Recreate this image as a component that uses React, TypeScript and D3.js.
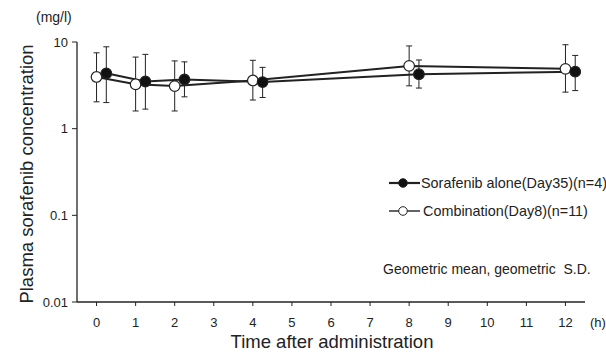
import React from 'react';
import * as d3 from 'd3';

const times = [0, 1, 2, 4, 8, 12];
const xTicks = [0, 1, 2, 3, 4, 5, 6, 7, 8, 9, 10, 11, 12];
const yTicks = [10, 1, 0.1, 0.01];
const yTickLabels = ['10', '1', '0.1', '0.01'];

// Sorafenib alone (Day35)(n=4), filled
const aloneMean = [4.35, 3.5, 3.7, 3.45, 4.25, 4.55];
const aloneUpper = [8.8, 7.2, 5.9, 5.1, 6.2, 7.0];
const aloneLower = [2.0, 1.68, 2.33, 2.29, 2.94, 2.75];

// Combination (Day8)(n=11), open
const comboMean = [3.95, 3.25, 3.1, 3.6, 5.3, 4.9];
const comboUpper = [7.5, 6.7, 6.05, 6.15, 9.0, 9.3];
const comboLower = [2.04, 1.6, 1.6, 2.14, 3.12, 2.64];

const font = '"Liberation Sans", Arial, sans-serif';

const App = () => {
  const width = 606;
  const height = 352;

  const xScale = d3.scaleLinear().domain([-0.5, 12.5]).range([77, 585]);
  const yScale = d3.scaleLog().domain([0.01, 10]).range([302, 42]);

  const series = [
    { mean: comboMean, up: comboUpper, lo: comboLower, offset: 0, fill: '#fff' },
    { mean: aloneMean, up: aloneUpper, lo: aloneLower, offset: 0.25, fill: '#111' },
  ];

  const line = d3.line<[number, number]>()
    .x(d => xScale(d[0]))
    .y(d => yScale(d[1]));

  return (
    <svg width={width} height={height} style={{ position: 'absolute', left: 0, top: 0 }}>
      <rect width={width} height={height} fill="#fff" />
      {/* axes */}
      <line x1={xScale.range()[0]} x2={xScale.range()[0]} y1={yScale(10)} y2={yScale(0.01)} stroke="#222" strokeWidth={1.3} />
      <line x1={xScale.range()[0]} x2={xScale.range()[1]} y1={yScale(0.01)} y2={yScale(0.01)} stroke="#222" strokeWidth={1.3} />
      {yTicks.map((t, i) => (
        <g key={t}>
          <line x1={72} x2={77} y1={yScale(t)} y2={yScale(t)} stroke="#222" />
          <text x={68} y={yScale(t) + 4.5} textAnchor="end" fontFamily={font} fontSize={13} fill="#222">{yTickLabels[i]}</text>
        </g>
      ))}
      {xTicks.map(t => (
        <g key={t}>
          <line x1={xScale(t)} x2={xScale(t)} y1={302} y2={306} stroke="#222" />
          <text x={xScale(t)} y={327} textAnchor="middle" fontFamily={font} fontSize={13} fill="#222">{t}</text>
        </g>
      ))}
      <text x={590} y={327} fontFamily={font} fontSize={13} fill="#222">(h)</text>
      <text x={36} y={22} fontFamily={font} fontSize={14} fill="#222">(mg/l)</text>
      <text x={332} y={348} textAnchor="middle" fontFamily={font} fontSize={18.5} fill="#222">Time after administration</text>
      <text transform="translate(33,174) rotate(-90)" textAnchor="middle" fontFamily={font} fontSize={18.5} fill="#222">Plasma sorafenib concentration</text>

      {/* lines */}
      {series.map((s, k) => (
        <path key={'l' + k}
          d={line(times.map((t, i) => [t + s.offset, s.mean[i]] as [number, number])) || ''}
          fill="none" stroke="#222" strokeWidth={2} />
      ))}
      {/* error bars */}
      {series.map((s, k) => times.map((t, i) => {
        const x = xScale(t + s.offset);
        return (
          <g key={'e' + k + i} stroke="#222" strokeWidth={1}>
            <line x1={x} x2={x} y1={yScale(s.up[i])} y2={yScale(s.lo[i])} />
            <line x1={x - 3} x2={x + 3} y1={yScale(s.up[i])} y2={yScale(s.up[i])} />
            <line x1={x - 3} x2={x + 3} y1={yScale(s.lo[i])} y2={yScale(s.lo[i])} />
          </g>
        );
      }))}
      {/* points */}
      {series.map((s, k) => times.map((t, i) => (
        <circle key={'p' + k + i} cx={xScale(t + s.offset)} cy={yScale(s.mean[i])} r={5.3}
          fill={s.fill} stroke="#222" strokeWidth={1.2} />
      )))}

      {/* legend */}
      <line x1={389} x2={420} y1={183} y2={183} stroke="#222" strokeWidth={2.2} />
      <circle cx={403} cy={183} r={4.3} fill="#111" stroke="#222" />
      <text x={421} y={188} fontFamily={font} fontSize={14.4} fill="#222">Sorafenib alone(Day35)(n=4)</text>
      <line x1={389} x2={420} y1={211} y2={211} stroke="#222" strokeWidth={1.4} />
      <circle cx={403} cy={211} r={4.3} fill="#fff" stroke="#222" />
      <text x={423} y={216} fontFamily={font} fontSize={14.4} fill="#222">Combination(Day8)(n=11)</text>
      <text x={383} y={274} fontFamily={font} fontSize={14} fill="#222" style={{ whiteSpace: 'pre' }}>Geometric mean, geometric  S.D.</text>
    </svg>
  );
};

export default App;
